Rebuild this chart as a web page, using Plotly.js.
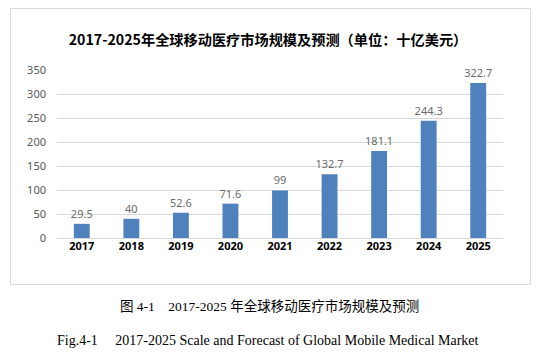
<!DOCTYPE html>
<html>
<head>
<meta charset="utf-8">
<script src="https://cdn.plot.ly/plotly-3.0.1.min.js"></script>
<style>html,body{margin:0;padding:0;background:#fff;}#chart{width:543px;height:354px;}</style>
</head>
<body>
<div id="chart"></div>
<script>
const years = ['2017','2018','2019','2020','2021','2022','2023','2024','2025'];
const marketSize = [29.5, 40, 52.6, 71.6, 99, 132.7, 181.1, 244.3, 322.7];
const valueLabels = ['29.5','40','52.6','71.6','99','132.7','181.1','244.3','322.7'];
const yTicks = [0, 50, 100, 150, 200, 250, 300, 350];
const chartTitle = '2017-2025年全球移动医疗市场规模及预测（单位：十亿美元）';
const captionCn = '图 4-1\u00a0\u00a0\u00a0\u00a02017-2025 年全球移动医疗市场规模及预测';
const captionEn = 'Fig.4-1\u00a0\u00a0\u00a0\u00a0\u00a02017-2025 Scale and Forecast of Global Mobile Medical Market';

// pixel helpers for paper coordinates (plot area 57..503 x, 70..238 y)
const L = 57, R = 503, T = 70, B = 238;
const px = x => (x - L) / (R - L);
const py = y => (B - y) / (B - T);

const trace = {
  type: 'bar',
  x: years,
  y: marketSize,
  text: valueLabels,
  textposition: 'outside',
  constraintext: 'none',
  cliponaxis: false,
  textfont: {family: 'Noto Sans, sans-serif', size: 11, color: '#6b6b6b'},
  marker: {color: '#4f81bd'},
  hoverinfo: 'none'
};

const layout = {
  width: 543, height: 354,
  margin: {l: L, r: 543 - R, t: T, b: 354 - B, pad: 0},
  paper_bgcolor: '#ffffff',
  plot_bgcolor: '#ffffff',
  showlegend: false,
  bargap: 0.68,
  title: {
    text: '<b>' + chartTitle + '</b>',
    font: {family: 'Noto Sans CJK SC, sans-serif', size: 14.2, color: '#000000'},
    x: px(268), xref: 'paper', xanchor: 'center',
    y: 1 - 40 / 354, yref: 'container', yanchor: 'middle'
  },
  xaxis: {
    type: 'category',
    showgrid: false, zeroline: false, showline: false,
    ticks: '', ticklen: 0,
    tickfont: {family: 'Noto Sans, sans-serif', size: 11, color: '#000000', weight: 'bold'},
    fixedrange: true
  },
  yaxis: {
    range: [0, 350],
    tickvals: yTicks,
    ticktext: yTicks.map(String),
    showgrid: true, gridcolor: '#d9d9d9', gridwidth: 1,
    zeroline: true, zerolinecolor: '#d9d9d9', zerolinewidth: 1,
    showline: false, ticks: '',
    ticklabelstandoff: 10,
    tickfont: {family: 'Noto Sans, sans-serif', size: 11, color: '#595959'},
    fixedrange: true
  },
  shapes: [{
    type: 'rect', xref: 'paper', yref: 'paper',
    x0: px(10.5), x1: px(530.5), y0: py(284.5), y1: py(8.5),
    line: {color: '#d9d9d9', width: 1}, fillcolor: 'rgba(0,0,0,0)', layer: 'below'
  }],
  annotations: [
    {text: captionCn, xref: 'paper', yref: 'paper', x: px(269), y: py(306),
     xanchor: 'center', yanchor: 'middle', showarrow: false,
     font: {family: 'Liberation Serif, Noto Sans CJK SC, serif', size: 13.5, color: '#000000'}},
    {text: captionEn, xref: 'paper', yref: 'paper', x: px(268), y: py(340),
     xanchor: 'center', yanchor: 'middle', showarrow: false,
     font: {family: 'Liberation Serif, serif', size: 14, color: '#000000'}}
  ]
};

Plotly.newPlot('chart', [trace], layout, {staticPlot: true, displayModeBar: false});
</script>
</body>
</html>
